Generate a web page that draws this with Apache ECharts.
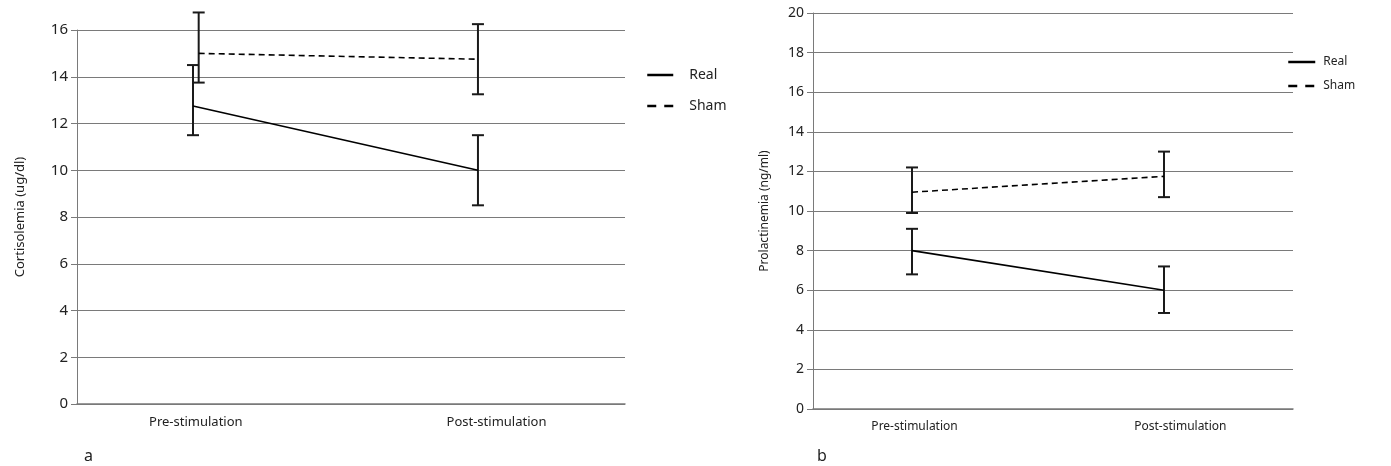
<!DOCTYPE html>
<html>
<head>
<meta charset="utf-8">
<script src="https://cdn.jsdelivr.net/npm/echarts@6/dist/echarts.min.js"></script>
<style>html,body{margin:0;padding:0;background:#fff}#c{width:1391px;height:466px}</style>
</head>
<body>
<div id="c"></div>
<script>
// ---- data ----
const categories = ['Pre-stimulation', 'Post-stimulation'];
const seriesNames = ['Real', 'Sham'];
// Panel a: Cortisolemia (ug/dl)
const cortRealMean = [12.75, 10.0];
const cortRealHigh = [14.5, 11.5];
const cortRealLow = [11.5, 8.5];
const cortShamMean = [15.0, 14.75];
const cortShamHigh = [16.75, 16.25];
const cortShamLow = [13.75, 13.25];
// Panel b: Prolactinemia (ng/ml)
const prolRealMean = [8.0, 6.0];
const prolRealHigh = [9.1, 7.2];
const prolRealLow = [6.8, 4.85];
const prolShamMean = [10.95, 11.75];
const prolShamHigh = [12.2, 13.0];
const prolShamLow = [9.9, 10.7];
const cortTicks = [0, 2, 4, 6, 8, 10, 12, 14, 16];
const prolTicks = [0, 2, 4, 6, 8, 10, 12, 14, 16, 18, 20];

// ---- layout helpers ----
const catPos = [0, 1];
const labelPos = [0.01, 1.065];
const FONT = '"Noto Sans", "Open Sans", sans-serif';
const GRIDC = '#7a7a7a';

function pts(xs, ys) { return ys.map((v, i) => [xs[i], v]); }
function errData(xs, lo, hi) { return lo.map((v, i) => [xs[i], v, hi[i]]); }

function errSeries(name, xi, yi, data) {
  return {
    name: name, type: 'custom', xAxisIndex: xi, yAxisIndex: yi, clip: false, silent: true,
    data: data, encode: { x: 0, y: [1, 2] },
    renderItem: function (params, api) {
      const x = api.value(0);
      const lo = api.coord([x, api.value(1)]);
      const hi = api.coord([x, api.value(2)]);
      const hw = 6;
      const st = { stroke: '#1a1a1a', lineWidth: 2 };
      return {
        type: 'group', children: [
          { type: 'line', shape: { x1: lo[0], y1: lo[1], x2: hi[0], y2: hi[1] }, style: st },
          { type: 'line', shape: { x1: lo[0] - hw, y1: lo[1], x2: lo[0] + hw, y2: lo[1] }, style: st },
          { type: 'line', shape: { x1: hi[0] - hw, y1: hi[1], x2: hi[0] + hw, y2: hi[1] }, style: st }
        ]
      };
    }
  };
}

function lineSeries(name, xi, yi, data, dashed) {
  return {
    name: name, type: 'line', xAxisIndex: xi, yAxisIndex: yi, data: data,
    symbol: 'none', silent: true, animation: false,
    lineStyle: { color: '#000', width: 1.6, type: dashed ? [6, 4] : 'solid' },
    itemStyle: { color: '#000' }
  };
}

function xAx(gi, min, max, fs) {
  return {
    type: 'value', gridIndex: gi, min: min, max: max,
    axisLine: { show: true, onZero: false, lineStyle: { color: GRIDC, width: 1.5 } },
    axisTick: { show: false }, splitLine: { show: false },
    axisLabel: {
      customValues: labelPos, color: '#222', fontFamily: FONT, fontSize: fs, margin: 12,
      formatter: function (v) {
        const i = labelPos.findIndex(p => Math.abs(p - v) < 1e-6);
        return i >= 0 ? categories[i] : '';
      }
    }
  };
}

function yAx(gi, max, name, fs, nfs, gap) {
  return {
    type: 'value', gridIndex: gi, min: 0, max: max, interval: 2,
    name: name, nameLocation: 'middle', nameGap: gap,
    nameTextStyle: { color: '#222', fontFamily: FONT, fontSize: nfs },
    axisLine: { show: true, onZero: false, lineStyle: { color: GRIDC, width: 1 } },
    axisTick: { show: true, length: 6, lineStyle: { color: GRIDC } },
    splitLine: { show: true, lineStyle: { color: GRIDC, width: 1 } },
    axisLabel: { color: '#222', fontFamily: FONT, fontSize: fs, margin: 9 }
  };
}

const dodge = 0.02;
const legendData = [
  { name: seriesNames[0], lineStyle: { width: 2.5, type: 'solid' } },
  { name: seriesNames[1], lineStyle: { width: 2.5, type: [9, 8] } }
];
const legendCommon = { orient: 'vertical', selectedMode: false, itemStyle: { opacity: 0 }, data: legendData };
const option = {
  animation: false,
  backgroundColor: '#fff',
  grid: [
    { left: 77, top: 30, width: 548, height: 374 },
    { left: 813, top: 13, width: 480, height: 396 }
  ],
  xAxis: [xAx(0, -0.407, 1.516, 13), xAx(1, -0.393, 1.512, 12)],
  yAxis: [
    yAx(0, 16, 'Cortisolemia (ug/dl)', 15, 13, 50),
    yAx(1, 20, 'Prolactinemia (ng/ml)', 14, 12, 42)
  ],
  legend: [
    Object.assign({}, legendCommon, {
      left: 641, top: 63, itemWidth: 26, itemHeight: 10, itemGap: 17,
      textStyle: { fontFamily: FONT, fontSize: 14, color: '#222', padding: [0, 0, 0, 11] }
    }),
    Object.assign({}, legendCommon, {
      left: 1282, top: 51, itemWidth: 27, itemHeight: 10, itemGap: 12,
      textStyle: { fontFamily: FONT, fontSize: 12, color: '#222', padding: [0, 0, 0, 3] }
    })
  ],
  graphic: [
    { type: 'text', left: 84, top: 448, style: { text: 'a', fontFamily: FONT, fontSize: 16, fill: '#222' } },
    { type: 'text', left: 817, top: 448, style: { text: 'b', fontFamily: FONT, fontSize: 16, fill: '#222' } }
  ],
  series: [
    lineSeries('Real', 0, 0, pts(catPos, cortRealMean), false),
    lineSeries('Sham', 0, 0, pts([catPos[0] + dodge, catPos[1]], cortShamMean), true),
    errSeries('Real', 0, 0, errData(catPos, cortRealLow, cortRealHigh)),
    errSeries('Sham', 0, 0, errData([catPos[0] + dodge, catPos[1]], cortShamLow, cortShamHigh)),
    lineSeries('Real', 1, 1, pts(catPos, prolRealMean), false),
    lineSeries('Sham', 1, 1, pts(catPos, prolShamMean), true),
    errSeries('Real', 1, 1, errData(catPos, prolRealLow, prolRealHigh)),
    errSeries('Sham', 1, 1, errData(catPos, prolShamLow, prolShamHigh))
  ]
};
const chart = echarts.init(document.getElementById('c'), null, { renderer: 'canvas' });
chart.setOption(option);
</script>
</body>
</html>
